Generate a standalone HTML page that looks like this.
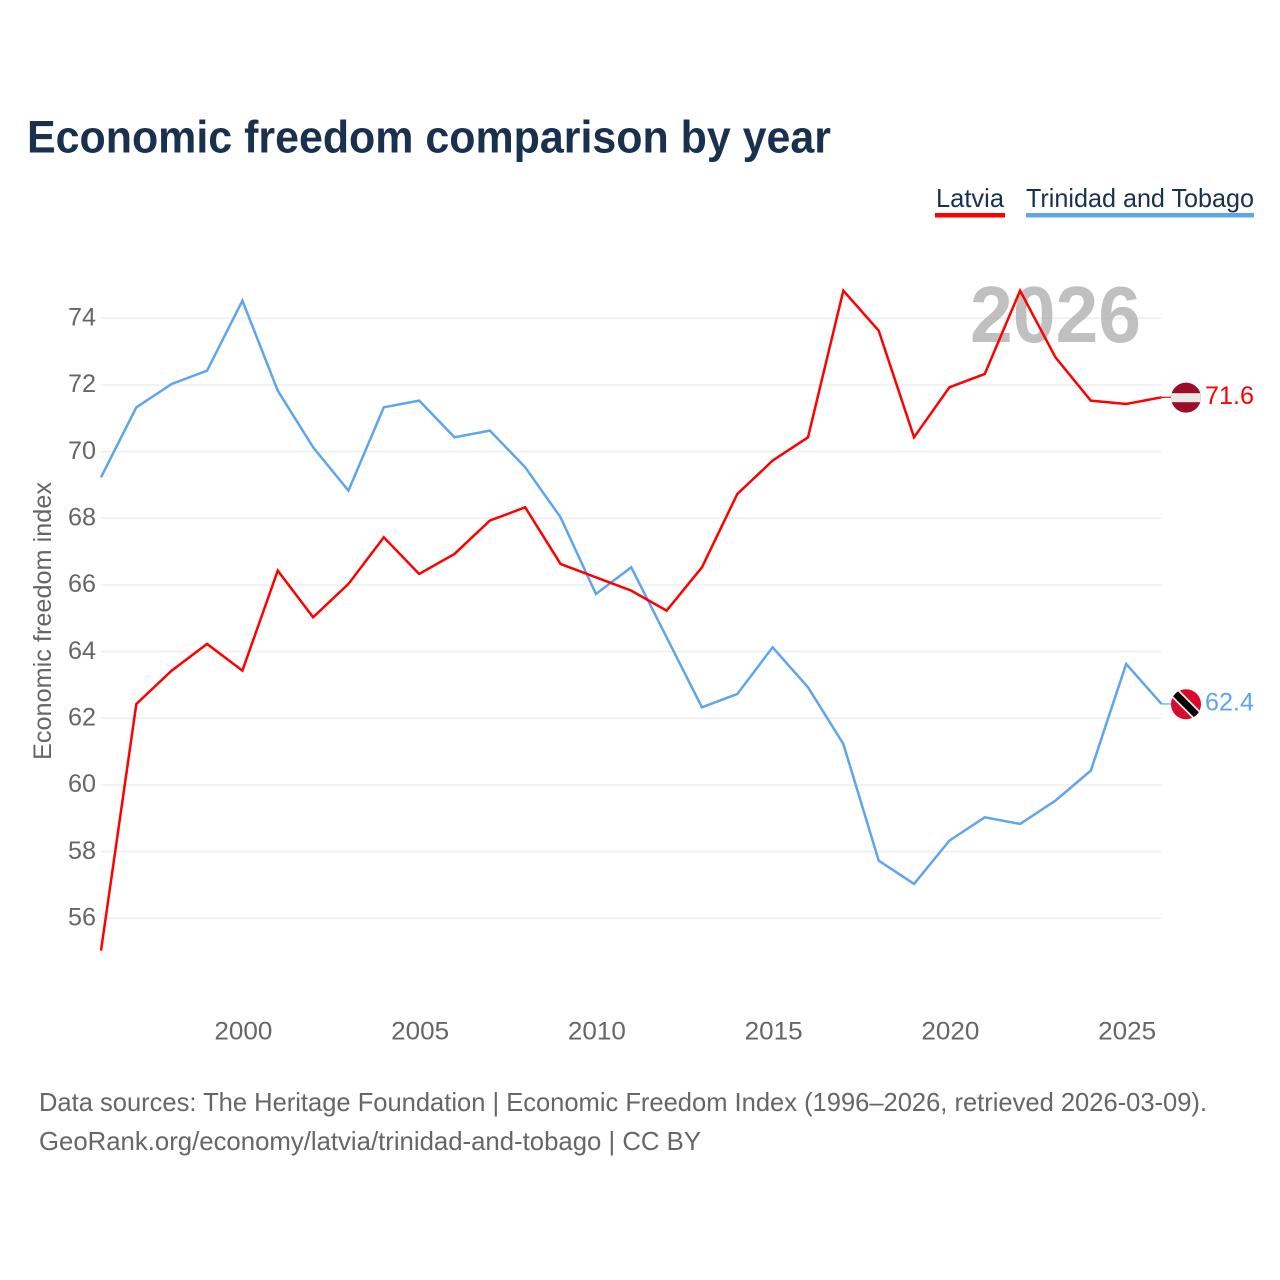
<!DOCTYPE html>
<html lang="en">
<head>
<meta charset="utf-8">
<title>Economic freedom comparison by year</title>
<style>
html,body{margin:0;padding:0;background:#fff;width:1280px;height:1280px;overflow:hidden}
svg{display:block}
text{font-family:"Liberation Sans",sans-serif}
</style>
</head>
<body>
<svg id="chart" xmlns="http://www.w3.org/2000/svg" width="1280" height="1280" viewBox="0 0 1280 1280">
  <rect width="1280" height="1280" fill="#fff"/>
  <text x="27" y="152.5" font-size="45" font-weight="700" fill="#19314f" textLength="804" lengthAdjust="spacingAndGlyphs">Economic freedom comparison by year</text>

  <g>
    <g>
      <text x="936" y="207" font-size="26" fill="#19314f" textLength="68" lengthAdjust="spacingAndGlyphs">Latvia</text>
      <rect x="935" y="213" width="70" height="4.5" fill="#ff0000"/>
    </g>
    <g>
      <text x="1026" y="207" font-size="26" fill="#19314f" textLength="228" lengthAdjust="spacingAndGlyphs">Trinidad and Tobago</text>
      <rect x="1026" y="213" width="228" height="4.5" fill="#5fa5ec"/>
    </g>
  </g>

  <g id="grid"></g>
  <text x="970" y="342" font-size="80" font-weight="700" fill="#a8a8a8" fill-opacity="0.72" textLength="171" lengthAdjust="spacingAndGlyphs">2026</text>
  <g id="yticks"></g>
  <g id="xticks"></g>
  <text transform="translate(51 621) rotate(-90)" text-anchor="middle" font-size="25" fill="#666" textLength="278" lengthAdjust="spacingAndGlyphs">Economic freedom index</text>
  <g id="series"></g>

  <g id="flagLatvia">
    <defs>
      <clipPath id="clipLv"><circle id="clipLvC" r="15"/></clipPath>
      <clipPath id="clipTt"><circle id="clipTtC" r="15"/></clipPath>
    </defs>
  </g>
  <g id="flagTrinidad"></g>
  <text id="endLv" x="1205" font-size="25" fill="#ff0000" textLength="49" lengthAdjust="spacingAndGlyphs"></text>
  <text id="endTt" x="1205" font-size="25" fill="#5fa5ec" textLength="49" lengthAdjust="spacingAndGlyphs"></text>

  <text x="39" y="1111" font-size="26" fill="#666" textLength="1168" lengthAdjust="spacingAndGlyphs">Data sources: The Heritage Foundation | Economic Freedom Index (1996–2026, retrieved 2026-03-09).</text>
  <text x="39" y="1150" font-size="26" fill="#666" textLength="662" lengthAdjust="spacingAndGlyphs">GeoRank.org/economy/latvia/trinidad-and-tobago | CC BY</text>
</svg>
<script>
const years = [1996,1997,1998,1999,2000,2001,2002,2003,2004,2005,2006,2007,2008,2009,2010,2011,2012,2013,2014,2015,2016,2017,2018,2019,2020,2021,2022,2023,2024,2025,2026];
const latvia = [55.0,62.4,63.4,64.2,63.4,66.4,65.0,66.0,67.4,66.3,66.9,67.9,68.3,66.6,66.2,65.8,65.2,66.5,68.7,69.7,70.4,74.8,73.6,70.4,71.9,72.3,74.8,72.8,71.5,71.4,71.6];
const trinidad = [69.2,71.3,72.0,72.4,74.5,71.8,70.1,68.8,71.3,71.5,70.4,70.6,69.5,68.0,65.7,66.5,64.4,62.3,62.7,64.1,62.9,61.2,57.7,57.0,58.3,59.0,58.8,59.5,60.4,63.6,62.4];
const yTickLabels = [56,58,60,62,64,66,68,70,72,74];
const xTickLabels = [2000,2005,2010,2015,2020,2025];

const NS = 'http://www.w3.org/2000/svg';
function xScale(year){ return 101 + (year - 1996) * (1161.5 - 101) / 30; }
function yScale(v){ return 318.3 + (74 - v) * (918.3 - 318.3) / 18; }
function lineY(v){ return yScale(v) - 1; }
function mk(tag, attrs, parent){
  const el = document.createElementNS(NS, tag);
  for (const k in attrs) el.setAttribute(k, attrs[k]);
  parent.appendChild(el);
  return el;
}

const grid = document.getElementById('grid');
const yticks = document.getElementById('yticks');
yTickLabels.forEach(function(v){
  const line = mk('line', {x1:101, x2:1161.5, y1:yScale(v), y2:yScale(v), stroke:'#eeeeee', 'stroke-width':1.5}, grid);
  
  
  const t = mk('text', {x:96, y:yScale(v) + 7.2, 'text-anchor':'end', 'font-size':25, fill:'#666', textLength:28, lengthAdjust:'spacingAndGlyphs'}, yticks);
  t.textContent = v;
  
  
});

const xticks = document.getElementById('xticks');
xTickLabels.forEach(function(y){
  const t = mk('text', {x:xScale(y) + 1, y:1039.5, 'text-anchor':'middle', 'font-size':25, fill:'#666', textLength:58, lengthAdjust:'spacingAndGlyphs'}, xticks);
  t.textContent = y;
  
  
});

function linePath(vals){
  return vals.map(function(v, i){ return (i ? 'L' : 'M') + xScale(years[i]).toFixed(2) + ' ' + lineY(v).toFixed(2); }).join(' ');
}
const seriesG = document.getElementById('series');
const pathTt = mk('path', {d:linePath(trinidad), fill:'none', stroke:'#5fa5ec', 'stroke-width':2.5, 'stroke-linejoin':'miter'}, seriesG);


const pathLv = mk('path', {d:linePath(latvia), fill:'none', stroke:'#ff0000', 'stroke-width':2.5, 'stroke-linejoin':'miter'}, seriesG);



const fx = 1186;
const lvLast = latvia[latvia.length - 1];
const ttLast = trinidad[trinidad.length - 1];
const lx = xScale(years[years.length - 1]);
const lvY = lineY(lvLast);
const ttY = lineY(ttLast);
const lvC = lvY + 0.3;
const ttC = ttY + 0.3;

const connLv = mk('line', {x1:lx, x2:fx - 14, y1:lvY, y2:lvY, stroke:'#ff0000', 'stroke-width':1.2}, seriesG);


const connTt = mk('line', {x1:lx, x2:fx - 14, y1:ttY, y2:ttY, stroke:'#5fa5ec', 'stroke-width':1.2}, seriesG);



document.getElementById('clipLvC').setAttribute('cx', fx);
document.getElementById('clipLvC').setAttribute('cy', lvC);
document.getElementById('clipTtC').setAttribute('cx', fx);
document.getElementById('clipTtC').setAttribute('cy', ttC);

const gLv = mk('g', {'clip-path':'url(#clipLv)'}, document.getElementById('flagLatvia'));
mk('rect', {x:fx - 16, y:lvC - 16, width:32, height:32, fill:'#9e0b26'}, gLv);
mk('rect', {x:fx - 16, y:lvC - 4.4, width:32, height:9, fill:'#e9e9e9'}, gLv);

const gTt = mk('g', {'clip-path':'url(#clipTt)'}, document.getElementById('flagTrinidad'));
mk('rect', {x:fx - 16, y:ttC - 16, width:32, height:32, fill:'#da0a2c'}, gTt);
mk('line', {x1:fx - 16, y1:ttC - 16, x2:fx + 16, y2:ttC + 16, stroke:'#f2f2f2', 'stroke-width':10.5}, gTt);
mk('line', {x1:fx - 16, y1:ttC - 16, x2:fx + 16, y2:ttC + 16, stroke:'#000', 'stroke-width':7}, gTt);

const endLv = document.getElementById('endLv');
endLv.setAttribute('y', lvY + 6.5);
endLv.textContent = lvLast.toFixed(1);
const endTt = document.getElementById('endTt');
endTt.setAttribute('y', ttY + 6.5);
endTt.textContent = ttLast.toFixed(1);
</script>
</body>
</html>
